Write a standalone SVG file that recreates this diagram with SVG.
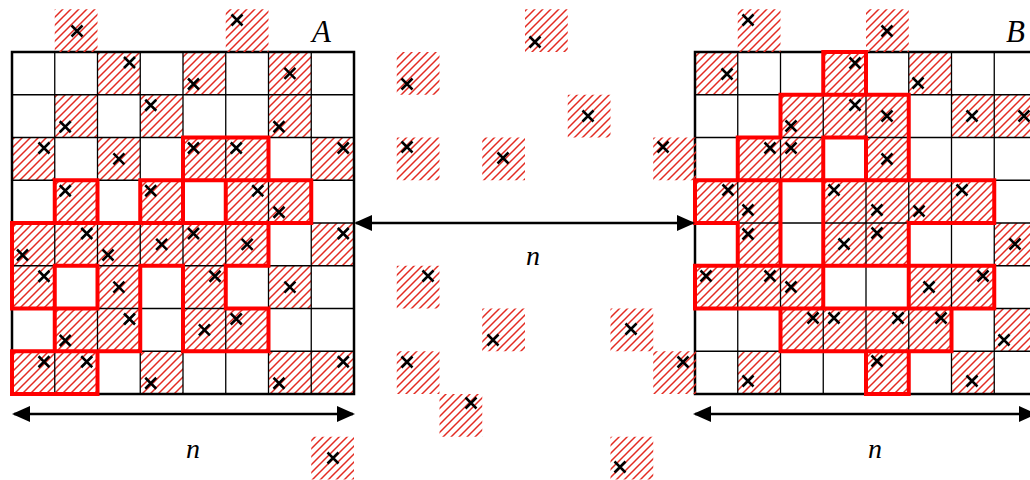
<svg xmlns="http://www.w3.org/2000/svg" width="1030" height="480" viewBox="0 0 1030 480">
<defs>
<pattern id="hatch" patternUnits="userSpaceOnUse" width="8" height="8">
<path d="M-2,2L2,-2M0,8L8,0M6,10L10,6" stroke="#e32b22" stroke-width="1.5" fill="none"/>
</pattern>
<path id="x" d="M-5.5,-5.5L5.5,5.5M-5.5,5.5L5.5,-5.5"/>
<marker id="ah" markerUnits="userSpaceOnUse" markerWidth="18" markerHeight="16" viewBox="0 0 18 16" refX="16" refY="8" orient="auto-start-reverse">
<path d="M0,0L18,8L0,16z" fill="#000"/>
</marker>
</defs>
<style>
.h{fill:url(#hatch);stroke:none}
.grid{fill:none;stroke:#000;stroke-width:1.3}
.frame{fill:none;stroke:#000;stroke-width:2.5}
.red{fill:none;stroke:#f00;stroke-width:4;stroke-linecap:square}
.xm use{stroke:#000;stroke-width:2.5;fill:none}
.arrow{stroke:#000;stroke-width:2.6;fill:none;marker-start:url(#ah);marker-end:url(#ah)}
.lbl{font-family:"Liberation Serif",serif;font-style:italic;fill:#000}
</style>
<rect width="1030" height="480" fill="#fff"/>

<g id="grid-a">
<g>
<rect class="h" x="97.5" y="52" width="42.75" height="42.75"/>
<rect class="h" x="183" y="52" width="42.75" height="42.75"/>
<rect class="h" x="268.5" y="52" width="42.75" height="42.75"/>
<rect class="h" x="54.75" y="94.75" width="42.75" height="42.75"/>
<rect class="h" x="140.25" y="94.75" width="42.75" height="42.75"/>
<rect class="h" x="268.5" y="94.75" width="42.75" height="42.75"/>
<rect class="h" x="12" y="137.5" width="42.75" height="42.75"/>
<rect class="h" x="97.5" y="137.5" width="42.75" height="42.75"/>
<rect class="h" x="183" y="137.5" width="42.75" height="42.75"/>
<rect class="h" x="225.75" y="137.5" width="42.75" height="42.75"/>
<rect class="h" x="311.25" y="137.5" width="42.75" height="42.75"/>
<rect class="h" x="54.75" y="180.25" width="42.75" height="42.75"/>
<rect class="h" x="140.25" y="180.25" width="42.75" height="42.75"/>
<rect class="h" x="225.75" y="180.25" width="42.75" height="42.75"/>
<rect class="h" x="268.5" y="180.25" width="42.75" height="42.75"/>
<rect class="h" x="12" y="223" width="42.75" height="42.75"/>
<rect class="h" x="54.75" y="223" width="42.75" height="42.75"/>
<rect class="h" x="97.5" y="223" width="42.75" height="42.75"/>
<rect class="h" x="140.25" y="223" width="42.75" height="42.75"/>
<rect class="h" x="183" y="223" width="42.75" height="42.75"/>
<rect class="h" x="225.75" y="223" width="42.75" height="42.75"/>
<rect class="h" x="311.25" y="223" width="42.75" height="42.75"/>
<rect class="h" x="12" y="265.75" width="42.75" height="42.75"/>
<rect class="h" x="97.5" y="265.75" width="42.75" height="42.75"/>
<rect class="h" x="183" y="265.75" width="42.75" height="42.75"/>
<rect class="h" x="268.5" y="265.75" width="42.75" height="42.75"/>
<rect class="h" x="54.75" y="308.5" width="42.75" height="42.75"/>
<rect class="h" x="97.5" y="308.5" width="42.75" height="42.75"/>
<rect class="h" x="183" y="308.5" width="42.75" height="42.75"/>
<rect class="h" x="225.75" y="308.5" width="42.75" height="42.75"/>
<rect class="h" x="12" y="351.25" width="42.75" height="42.75"/>
<rect class="h" x="54.75" y="351.25" width="42.75" height="42.75"/>
<rect class="h" x="140.25" y="351.25" width="42.75" height="42.75"/>
<rect class="h" x="268.5" y="351.25" width="42.75" height="42.75"/>
<rect class="h" x="311.25" y="351.25" width="42.75" height="42.75"/>
</g>
<path class="grid" d="M54.75,52V394M97.5,52V394M140.25,52V394M183,52V394M225.75,52V394M268.5,52V394M311.25,52V394M12,94.75H354M12,137.5H354M12,180.25H354M12,223H354M12,265.75H354M12,308.5H354M12,351.25H354"/>
<rect class="frame" x="12" y="52" width="342" height="342"/>
<path class="red" d="M183,137.5H268.5M54.75,180.25H97.5M140.25,180.25H311.25M12,223H311.25M54.75,265.75H97.5M140.25,265.75H183M225.75,265.75H268.5M12,308.5H97.5M225.75,308.5H268.5M12,351.25H140.25M183,351.25H268.5M12,394H97.5M12,223V308.5M12,351.25V394M54.75,180.25V223M54.75,265.75V351.25M97.5,180.25V223M97.5,265.75V308.5M97.5,351.25V394M140.25,180.25V223M140.25,265.75V351.25M183,137.5V223M183,265.75V351.25M225.75,180.25V223M225.75,265.75V308.5M268.5,137.5V180.25M268.5,223V265.75M268.5,308.5V351.25M311.25,180.25V223"/>
<g class="xm">
<use href="#x" x="129.5" y="62.5"/><use href="#x" x="193.5" y="84"/><use href="#x" x="289.9" y="73.4"/>
<use href="#x" x="65.25" y="126.75"/><use href="#x" x="150.75" y="105.25"/><use href="#x" x="279" y="126.75"/>
<use href="#x" x="44" y="148"/><use href="#x" x="118.9" y="158.9"/><use href="#x" x="193.5" y="148"/><use href="#x" x="236.25" y="148"/><use href="#x" x="343.25" y="148"/>
<use href="#x" x="65.25" y="190.75"/><use href="#x" x="150.75" y="190.75"/><use href="#x" x="257.75" y="190.75"/><use href="#x" x="279" y="212.25"/>
<use href="#x" x="22.5" y="255"/><use href="#x" x="86.75" y="233.5"/><use href="#x" x="108" y="255"/><use href="#x" x="161.65" y="244.4"/><use href="#x" x="193.5" y="233.5"/><use href="#x" x="247.15" y="244.4"/><use href="#x" x="343.25" y="233.5"/>
<use href="#x" x="44" y="276.25"/><use href="#x" x="118.9" y="287.15"/><use href="#x" x="215" y="276.25"/><use href="#x" x="289.9" y="287.15"/>
<use href="#x" x="65.25" y="340.5"/><use href="#x" x="129.5" y="319"/><use href="#x" x="204.4" y="329.9"/><use href="#x" x="236.25" y="319"/>
<use href="#x" x="44" y="361.75"/><use href="#x" x="86.75" y="361.75"/><use href="#x" x="150.75" y="383.25"/><use href="#x" x="279" y="383.25"/><use href="#x" x="343.25" y="361.75"/>
</g>
<text class="lbl" x="312" y="42" font-size="31">A</text>
</g>

<g id="grid-b">
<g>
<rect class="h" x="695" y="52" width="42.75" height="42.75"/>
<rect class="h" x="823.25" y="52" width="42.75" height="42.75"/>
<rect class="h" x="908.75" y="52" width="42.75" height="42.75"/>
<rect class="h" x="780.5" y="94.75" width="42.75" height="42.75"/>
<rect class="h" x="823.25" y="94.75" width="42.75" height="42.75"/>
<rect class="h" x="866" y="94.75" width="42.75" height="42.75"/>
<rect class="h" x="951.5" y="94.75" width="42.75" height="42.75"/>
<rect class="h" x="994.25" y="94.75" width="42.75" height="42.75"/>
<rect class="h" x="737.75" y="137.5" width="42.75" height="42.75"/>
<rect class="h" x="780.5" y="137.5" width="42.75" height="42.75"/>
<rect class="h" x="866" y="137.5" width="42.75" height="42.75"/>
<rect class="h" x="695" y="180.25" width="42.75" height="42.75"/>
<rect class="h" x="737.75" y="180.25" width="42.75" height="42.75"/>
<rect class="h" x="823.25" y="180.25" width="42.75" height="42.75"/>
<rect class="h" x="866" y="180.25" width="42.75" height="42.75"/>
<rect class="h" x="908.75" y="180.25" width="42.75" height="42.75"/>
<rect class="h" x="951.5" y="180.25" width="42.75" height="42.75"/>
<rect class="h" x="737.75" y="223" width="42.75" height="42.75"/>
<rect class="h" x="823.25" y="223" width="42.75" height="42.75"/>
<rect class="h" x="866" y="223" width="42.75" height="42.75"/>
<rect class="h" x="994.25" y="223" width="42.75" height="42.75"/>
<rect class="h" x="695" y="265.75" width="42.75" height="42.75"/>
<rect class="h" x="737.75" y="265.75" width="42.75" height="42.75"/>
<rect class="h" x="780.5" y="265.75" width="42.75" height="42.75"/>
<rect class="h" x="908.75" y="265.75" width="42.75" height="42.75"/>
<rect class="h" x="951.5" y="265.75" width="42.75" height="42.75"/>
<rect class="h" x="780.5" y="308.5" width="42.75" height="42.75"/>
<rect class="h" x="823.25" y="308.5" width="42.75" height="42.75"/>
<rect class="h" x="866" y="308.5" width="42.75" height="42.75"/>
<rect class="h" x="908.75" y="308.5" width="42.75" height="42.75"/>
<rect class="h" x="994.25" y="308.5" width="42.75" height="42.75"/>
<rect class="h" x="737.75" y="351.25" width="42.75" height="42.75"/>
<rect class="h" x="866" y="351.25" width="42.75" height="42.75"/>
<rect class="h" x="951.5" y="351.25" width="42.75" height="42.75"/>
</g>
<path class="grid" d="M737.75,52V394M780.5,52V394M823.25,52V394M866,52V394M908.75,52V394M951.5,52V394M994.25,52V394M695,94.75H1037M695,137.5H1037M695,180.25H1037M695,223H1037M695,265.75H1037M695,308.5H1037M695,351.25H1037"/>
<rect class="frame" x="695" y="52" width="342" height="342"/>
<path class="red" d="M823.25,52H866M780.5,94.75H908.75M737.75,137.5H780.5M823.25,137.5H866M695,180.25H994.25M695,223H737.75M908.75,223H994.25M695,265.75H994.25M695,308.5H994.25M780.5,351.25H951.5M866,394H908.75M695,180.25V223M695,265.75V308.5M737.75,137.5V180.25M737.75,223V265.75M780.5,94.75V137.5M780.5,180.25V265.75M780.5,308.5V351.25M823.25,52V94.75M823.25,137.5V308.5M866,52V94.75M866,137.5V180.25M866,351.25V394M908.75,94.75V180.25M908.75,223V308.5M908.75,351.25V394M951.5,308.5V351.25M994.25,180.25V223M994.25,265.75V308.5"/>
<g class="xm">
<use href="#x" x="727" y="74"/><use href="#x" x="855" y="63"/><use href="#x" x="918" y="83"/>
<use href="#x" x="791" y="126"/><use href="#x" x="855" y="105"/><use href="#x" x="887" y="116"/><use href="#x" x="972" y="116"/><use href="#x" x="1024" y="116"/>
<use href="#x" x="770" y="148"/><use href="#x" x="791" y="148"/><use href="#x" x="887" y="159"/>
<use href="#x" x="728" y="190"/><use href="#x" x="748" y="210"/><use href="#x" x="834" y="190"/><use href="#x" x="877" y="210"/><use href="#x" x="919" y="211"/><use href="#x" x="962" y="190"/>
<use href="#x" x="748" y="234"/><use href="#x" x="844" y="244"/><use href="#x" x="877" y="233"/><use href="#x" x="1015" y="244"/>
<use href="#x" x="706" y="276"/><use href="#x" x="770" y="276"/><use href="#x" x="791" y="287"/><use href="#x" x="929" y="287"/><use href="#x" x="983" y="276"/>
<use href="#x" x="813" y="318"/><use href="#x" x="834" y="318"/><use href="#x" x="898" y="318"/><use href="#x" x="941" y="318"/><use href="#x" x="1004" y="340"/>
<use href="#x" x="748" y="381"/><use href="#x" x="877" y="361"/><use href="#x" x="972" y="381"/>
</g>
<text class="lbl" x="1006" y="42" font-size="31">B</text>
</g>

<g id="free-cells">
<g id="fc1"><rect class="h" x="54.75" y="9.25" width="42.75" height="42.75"/><g class="xm"><use href="#x" x="77" y="31"/></g></g>
<g id="fc2"><rect class="h" x="225.75" y="9.25" width="42.75" height="42.75"/><g class="xm"><use href="#x" x="237" y="20"/></g></g>
<g id="fc3"><rect class="h" x="396.75" y="52" width="42.75" height="42.75"/><g class="xm"><use href="#x" x="407" y="84"/></g></g>
<g id="fc4"><rect class="h" x="525" y="9.25" width="42.75" height="42.75"/><g class="xm"><use href="#x" x="535" y="42"/></g></g>
<g id="fc5"><rect class="h" x="567.75" y="94.75" width="42.75" height="42.75"/><g class="xm"><use href="#x" x="588" y="116"/></g></g>
<g id="fc6"><rect class="h" x="396.75" y="137.5" width="42.75" height="42.75"/><g class="xm"><use href="#x" x="407" y="147"/></g></g>
<g id="fc7"><rect class="h" x="482.25" y="137.5" width="42.75" height="42.75"/><g class="xm"><use href="#x" x="503" y="158"/></g></g>
<g id="fc8"><rect class="h" x="653.25" y="137.5" width="42.75" height="42.75"/><g class="xm"><use href="#x" x="663" y="147"/></g></g>
<g id="fc9"><rect class="h" x="396.75" y="265.75" width="42.75" height="42.75"/><g class="xm"><use href="#x" x="428" y="276"/></g></g>
<g id="fc10"><rect class="h" x="482.25" y="308.5" width="42.75" height="42.75"/><g class="xm"><use href="#x" x="493" y="340"/></g></g>
<g id="fc11"><rect class="h" x="396.75" y="351.25" width="42.75" height="42.75"/><g class="xm"><use href="#x" x="407" y="362"/></g></g>
<g id="fc12"><rect class="h" x="439.5" y="394" width="42.75" height="42.75"/><g class="xm"><use href="#x" x="471" y="403"/></g></g>
<g id="fc13"><rect class="h" x="610.5" y="308.5" width="42.75" height="42.75"/><g class="xm"><use href="#x" x="631" y="329"/></g></g>
<g id="fc14"><rect class="h" x="653.25" y="351.25" width="42.75" height="42.75"/><g class="xm"><use href="#x" x="683" y="362"/></g></g>
<g id="fc15"><rect class="h" x="610.5" y="436.75" width="42.75" height="42.75"/><g class="xm"><use href="#x" x="620" y="467"/></g></g>
<g id="fc16"><rect class="h" x="311.25" y="436.75" width="42.75" height="42.75"/><g class="xm"><use href="#x" x="333" y="458"/></g></g>
<g id="fc17"><rect class="h" x="737.75" y="9.25" width="42.75" height="42.75"/><g class="xm"><use href="#x" x="748" y="20"/></g></g>
<g id="fc18"><rect class="h" x="866" y="9.25" width="42.75" height="42.75"/><g class="xm"><use href="#x" x="887" y="31"/></g></g>
</g>

<g id="connectors">
<line class="arrow" x1="356" y1="223" x2="693" y2="223"/>
<line class="arrow" x1="14" y1="414" x2="353" y2="414"/>
<line class="arrow" x1="695" y1="414" x2="1035" y2="414"/>
</g>

<g id="labels">
<text class="lbl" x="533" y="265" font-size="28" text-anchor="middle">n</text>
<text class="lbl" x="193" y="458" font-size="28" text-anchor="middle">n</text>
<text class="lbl" x="875" y="458" font-size="28" text-anchor="middle">n</text>
</g>
</svg>
